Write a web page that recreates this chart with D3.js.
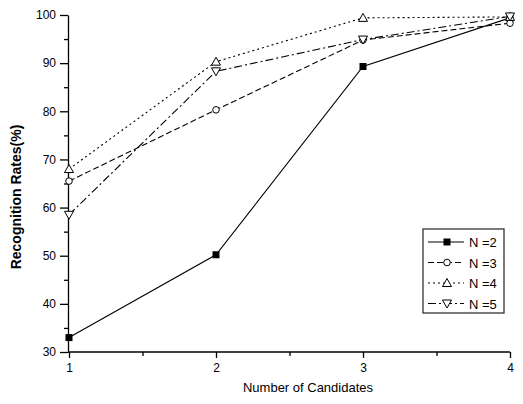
<!DOCTYPE html>
<html lang="en">
<head>
<meta charset="utf-8">
<style type="text/css">
    body { margin: 0; background: #fff; }
    .axis path, .axis line { stroke: #000; stroke-width: 1.3px; }
    .axis text { font-family: "Liberation Sans Narrow", "Liberation Sans", Arial, sans-serif; font-size: 12px; fill: #000; }
    .series { fill: none; stroke: #000; stroke-width: 1.1px; }
</style>
</head>
<body>
<svg width="523" height="404"></svg>
<script src="https://d3js.org/d3.v7.min.js"></script>
<script type="text/javascript">

var candidates = [1, 2, 3, 4];
var seriesNames = ["N =2", "N =3", "N =4", "N =5"];
var n2 = [33.0, 50.2, 89.3, 99.4];
var n3 = [65.5, 80.3, 94.8, 98.3];
var n4 = [68.0, 90.3, 99.4, 99.6];
var n5 = [58.5, 88.3, 94.9, 99.7];
var yTicks = [30, 40, 50, 60, 70, 80, 90, 100];

var seriesValues = [n2, n3, n4, n5];
var dashes = [null, "6,3", "2,3", "8,3,2,3"];
var symbols = ["square", "circle", "up", "down"];

var svg = d3.select("svg");

var x = d3.scaleLinear().domain([1, 4]).range([69, 510]);
var y = d3.scaleLinear().domain([30, 100]).range([352, 15]);

// minor ticks first
svg.append("g")
    .attr("class", "axis")
    .attr("transform", "translate(68,0)")
    .call(d3.axisLeft(y).tickValues(d3.range(35, 100, 10)).tickSize(4).tickFormat(""))
    .select(".domain").remove();
svg.append("g")
    .attr("class", "axis")
    .attr("transform", "translate(0,352)")
    .call(d3.axisBottom(x).tickValues([1.5, 2.5, 3.5]).tickSize(4).tickFormat(""))
    .select(".domain").remove();

var yAxis = svg.append("g")
    .attr("class", "axis")
    .attr("transform", "translate(68,0)")
    .call(d3.axisLeft(y).tickValues(yTicks).tickSize(8).tickSizeOuter(0).tickPadding(4));

var xAxis = svg.append("g")
    .attr("class", "axis")
    .attr("transform", "translate(0,352)")
    .call(d3.axisBottom(x).tickValues(candidates).tickFormat(d3.format("d")).tickSize(6).tickSizeOuter(0).tickPadding(5));
xAxis.select(".domain").attr("d", "M68,0H510");

svg.append("text")
    .attr("transform", "translate(21,197) rotate(-90)")
    .attr("text-anchor", "middle")
    .style("font-family", "Liberation Sans, Arial, sans-serif")
    .style("font-size", "14px")
    .style("font-weight", "bold")
    .text("Recognition Rates(%)");

svg.append("text")
    .attr("x", 308)
    .attr("y", 392)
    .attr("text-anchor", "middle")
    .style("font-family", "Liberation Sans, Arial, sans-serif")
    .style("font-size", "13px")
    .text("Number of Candidates");

function drawSymbol(g, kind, cx, cy) {
    if (kind == "square") {
        g.append("rect").attr("x", cx - 3.5).attr("y", cy - 3.5).attr("width", 7).attr("height", 7)
            .attr("fill", "#000");
    } else if (kind == "circle") {
        g.append("circle").attr("cx", cx).attr("cy", cy).attr("r", 3.3)
            .attr("fill", "#fff").attr("stroke", "#000").attr("stroke-width", 1);
    } else if (kind == "up") {
        g.append("path").attr("d", "M" + cx + "," + (cy - 4.5) + "L" + (cx + 4.5) + "," + (cy + 3.5) + "L" + (cx - 4.5) + "," + (cy + 3.5) + "Z")
            .attr("fill", "#fff").attr("stroke", "#000").attr("stroke-width", 1);
    } else {
        g.append("path").attr("d", "M" + cx + "," + (cy + 4.5) + "L" + (cx + 4.5) + "," + (cy - 3.5) + "L" + (cx - 4.5) + "," + (cy - 3.5) + "Z")
            .attr("fill", "#fff").attr("stroke", "#000").attr("stroke-width", 1);
    }
}

var line = d3.line()
    .x(function (d, i) { return x(candidates[i]); })
    .y(function (d) { return y(d); });

seriesValues.forEach(function (vals, s) {
    svg.append("path")
        .attr("class", "series")
        .attr("d", line(vals))
        .attr("stroke-dasharray", dashes[s]);
});
seriesValues.forEach(function (vals, s) {
    var g = svg.append("g");
    vals.forEach(function (v, i) {
        drawSymbol(g, symbols[s], x(candidates[i]), y(v));
    });
});

// legend
var legend = svg.append("g");
legend.append("rect")
    .attr("x", 423).attr("y", 229).attr("width", 81).attr("height", 84)
    .attr("fill", "#fff").attr("stroke", "#333").attr("stroke-width", 1.3);
seriesNames.forEach(function (name, s) {
    var ly = 242 + s * 20.5;
    legend.append("line")
        .attr("x1", 428).attr("x2", 464).attr("y1", ly).attr("y2", ly)
        .attr("class", "series")
        .attr("stroke-dasharray", dashes[s]);
    drawSymbol(legend, symbols[s], 447, ly);
    legend.append("text")
        .attr("x", 469).attr("y", ly + 5)
        .style("font-family", "Liberation Sans, Arial, sans-serif")
        .style("font-size", "13px")
        .text(name);
});

</script>
</body>
</html>
